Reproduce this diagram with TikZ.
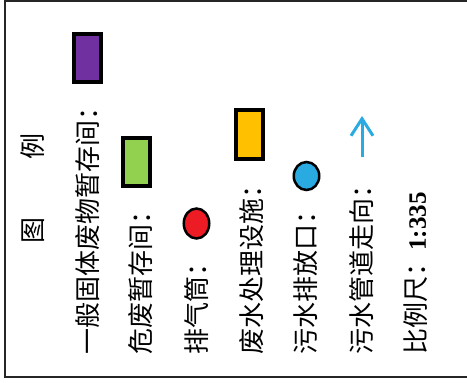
\documentclass[tikz,border=0pt]{standalone}
\usepackage{fontspec}
\setmainfont{Liberation Serif}
\newfontfamily\cjk{Noto Sans CJK SC}
\usetikzlibrary{shapes.geometric,arrows.meta}
\definecolor{wastepurple}{RGB}{112,48,160}
\definecolor{hazgreen}{RGB}{146,208,80}
\definecolor{plantgold}{RGB}{255,192,0}
\definecolor{stackred}{RGB}{237,28,36}
\definecolor{outletblue}{RGB}{41,171,226}
\tikzset{
  legtxt/.style={rotate=90,anchor=west,inner sep=0pt,font=\cjk\fontsize{26pt}{26pt}\selectfont},
  swatch/.style={draw,line width=4pt,minimum width=27pt,minimum height=48pt,inner sep=0pt},
  spot/.style={draw,ellipse,line width=2.5pt,inner sep=0pt,minimum width=25.5pt,minimum height=30pt},
}

\begin{document}
\begin{tikzpicture}[x=1pt,y=-1pt]
  \useasboundingbox (0,0) rectangle (467,383);
  \draw[line width=2pt,black!85] (467,1) -- (5,1) -- (5,377) -- (467,377);
  % title and labels, read from bottom to top
  \node[legtxt,anchor=center] (title) at (33,188) {图\hspace{58pt}例};
  \foreach \x/\t/\n in {87.5/一般固体废物暂存间：/gen,141/危废暂存间：/haz,197/排气筒：/stack,252/废水处理设施：/plant,306/污水排放口：/outlet,362/污水管道走向：/pipe}
    \node[legtxt] (lbl-\n) at (\x,355) {\t};
  \node[legtxt] (lbl-scale) at (416,355) {比例尺：{\rmfamily\bfseries\fontsize{25pt}{25pt}\selectfont 1:335}};
  % symbols
  \node[swatch,fill=wastepurple] (sw-gen) at (87.5,58) {};
  \node[swatch,fill=hazgreen] (sw-haz) at (136.5,162) {};
  \node[spot,fill=stackred] (sw-stack) at (196.5,223.5) {};
  \node[swatch,fill=plantgold,minimum height=49pt] (sw-plant) at (249,134.5) {};
  \node[spot,fill=outletblue,minimum height=28pt] (sw-outlet) at (306.5,176) {};
  \coordinate (pipe-s) at (362,157);
  \coordinate (pipe-e) at (362,116);
  \draw[outletblue,line width=3pt,-{Straight Barb[length=17pt,width=22pt]}] (pipe-s) -- (pipe-e);
\end{tikzpicture}
\end{document}
